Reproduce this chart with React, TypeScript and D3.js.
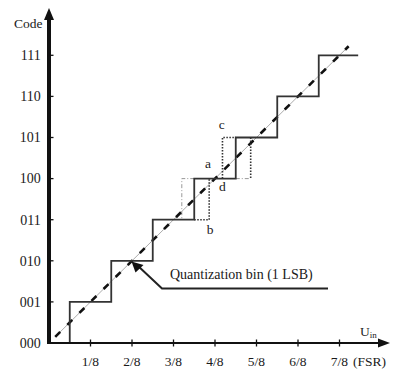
import React from "react";
import * as d3 from "d3";

// codes on the y axis, one per quantization level
const codes = ["000", "001", "010", "011", "100", "101", "110", "111"];
// input levels on the x axis (in units of 1/8 FSR)
const xTicks = [1, 2, 3, 4, 5, 6, 7];
const xTickLabels = ["1/8", "2/8", "3/8", "4/8", "5/8", "6/8", "7/8"];
// transition points of the ideal staircase (LSB units)
const transitions = [0.5, 1.5, 2.5, 3.5, 4.5, 5.5, 6.5];
const stairEnd = 7.45;
// ideal straight transfer line
const idealLine: [number, number][] = [[0.15, 0.15], [7.22, 7.22]];
// shifted transitions drawn dotted (b, c and the right edge of the c bin)
const dottedPaths: [number, number][][] = [
  [[3.5, 3], [3.86, 3], [3.86, 4]],
  [[4.18, 4], [4.18, 5], [4.5, 5]],
  [[4.86, 5], [4.86, 4]],
];
// thin dash-dot guides
const guidePaths: [number, number][][] = [
  [[3.5, 4], [3.2, 4], [3.2, 3]],
  [[4.5, 4], [4.86, 4]],
];
const pointLabels = [
  { t: "a", x: 3.83, y: 4.25 },
  { t: "b", x: 3.88, y: 2.65 },
  { t: "c", x: 4.16, y: 5.2 },
  { t: "d", x: 4.18, y: 3.7 },
];

const W = 397;
const H = 371;
const x0 = 49;
const y0 = 343;

export default function App() {
  const x = d3.scaleLinear().domain([0, 8]).range([x0, x0 + 8 * 41.5]);
  const y = d3.scaleLinear().domain([0, 7]).range([y0, 55.3]);
  const line = d3
    .line<[number, number]>()
    .x((d) => x(d[0]))
    .y((d) => y(d[1]));

  // staircase points built from the transitions
  const stair: [number, number][] = [];
  transitions.forEach((t, i) => {
    stair.push([t, i]);
    stair.push([t, i + 1]);
  });
  stair.push([stairEnd, transitions.length]);

  const txt = { fontFamily: '"Liberation Serif", "DejaVu Serif", serif' };
  const ink = "#1a1a1a";

  return (
    <svg width={W} height={H} style={{ position: "absolute", left: 0, top: 0 }}>
      <rect width={W} height={H} fill="#fff" />

      {/* guides */}
      {guidePaths.map((p, i) => (
        <path
          key={"g" + i}
          d={line(p) || ""}
          fill="none"
          stroke="#999"
          strokeWidth={1}
          strokeDasharray="4,2,1,2"
        />
      ))}

      {/* ideal line: thin grey under bold dashes */}
      <path d={line(idealLine) || ""} stroke="#aaa" strokeWidth={1} fill="none" />
      <path
        d={line(idealLine) || ""}
        stroke="#111"
        strokeWidth={2.6}
        strokeDasharray="7,10"
        fill="none"
      />

      {/* staircase */}
      <path d={line(stair) || ""} fill="none" stroke="#333" strokeWidth={1.8} />

      {/* dotted transitions */}
      {dottedPaths.map((p, i) => (
        <path
          key={"d" + i}
          d={line(p) || ""}
          fill="none"
          stroke="#333"
          strokeWidth={1.6}
          strokeDasharray="1.5,1.5"
        />
      ))}

      {pointLabels.map((l) => (
        <text key={l.t} x={x(l.x)} y={y(l.y)} fontSize={13.5} fill={ink} textAnchor="middle" style={txt}>
          {l.t}
        </text>
      ))}

      {/* annotation */}
      <path d="M328,288.5 H162 L137,265" fill="none" stroke="#222" strokeWidth={2} />
      <path d="M131.5,261.5 L143.5,265 L135.5,272.5 Z" fill="#111" />
      <text x={170} y={279} fontSize={14} fill={ink} style={txt}>
        Quantization bin (1 LSB)
      </text>

      {/* y axis */}
      <line x1={x0} y1={y0} x2={x0} y2={18} stroke="#111" strokeWidth={4} />
      <path d={`M${x0},8 L${x0 + 5},20 L${x0 - 5},20 Z`} fill="#111" />
      {codes.map((c, i) => (
        <g key={c}>
          {i > 0 && (
            <line x1={x0} x2={x0 + 4.5} y1={y(i)} y2={y(i)} stroke="#111" strokeWidth={1.3} />
          )}
          <text x={40.8} y={y(i) + 4.8} fontSize={14} fill={ink} textAnchor="end" style={txt}>
            {c}
          </text>
        </g>
      ))}
      <text x={14} y={28} fontSize={13.5} fill={ink} style={txt}>
        Code
      </text>

      {/* x axis */}
      <line x1={x0 - 2} y1={y0} x2={382} y2={y0} stroke="#111" strokeWidth={2.2} />
      <path d={`M390,${y0} L378,${y0 - 4.5} L378,${y0 + 4.5} Z`} fill="#111" />
      {xTicks.map((t, i) => (
        <g key={t}>
          <line x1={x(t)} x2={x(t)} y1={y0 - 3.5} y2={y0 + 3.5} stroke="#111" strokeWidth={1.3} />
          <text x={x(t)} y={366} fontSize={13.5} fill={ink} textAnchor="middle" style={txt}>
            {xTickLabels[i]}
          </text>
        </g>
      ))}
      <text x={353} y={366} fontSize={13.5} fill={ink} style={txt}>
        (FSR)
      </text>
      <text x={360} y={336} fontSize={13.5} fill={ink} style={txt}>
        U<tspan fontSize={9} dy={2}>in</tspan>
      </text>
    </svg>
  );
}
